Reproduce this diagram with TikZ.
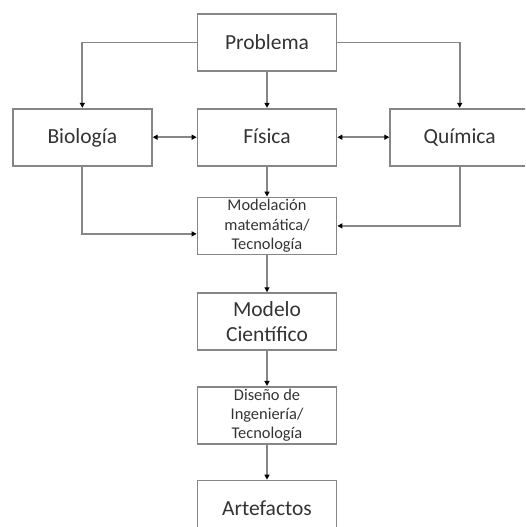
\documentclass[tikz,border=0pt]{standalone}
\usepackage{fontspec}
\setmainfont{Carlito}
\usetikzlibrary{positioning,arrows.meta}

\definecolor{boxline}{HTML}{868686}
\definecolor{boxtext}{HTML}{333333}

\tikzset{
  head/.tip={Triangle[length=5pt,width=5pt,black]},
  block/.style={draw=boxline, line width=1.7pt, minimum width=139pt,
    minimum height=57pt, inner sep=0pt, align=center, text=boxtext,
    font=\fontsize{21.5}{25.7}\selectfont},
  oneline/.style={block, text height=16pt, text depth=3pt},
  smallblock/.style={block, font=\fontsize{16.4}{19.2}\selectfont},
  link/.style={draw=boxline, line width=1.7pt, -head},
  twoway/.style={draw=boxline, line width=1.7pt, head-head},
}

\begin{document}
\begin{tikzpicture}
  \useasboundingbox (0,0) rectangle (525pt,-527pt);
  \clip (0,0) rectangle (525pt,-527pt);

  % Define nodes
  \node[oneline] (problema) at (267pt,-42.5pt) {Problema};
  \node[oneline, below=36pt of problema] (fisica) {Física};
  \node[oneline, left=44pt of fisica] (biologia) {Biología};
  \node[oneline, right=52pt of fisica] (quimica) {Química};
  \node[smallblock, below=30pt of fisica] (modelacion) {Modelación\\matemática/\\Tecnología};
  \node[block, below=37pt of modelacion] (modelo) {Modelo\\Científico};
  \node[smallblock, below=35pt of modelo] (diseno) {Diseño de\\Ingeniería/\\Tecnología};
  \node[oneline, below=35pt of diseno] (artefactos) {Artefactos};

  % Connect the nodes
  \draw[link] (problema) -- (fisica);
  \draw[link] (problema.west) -| (biologia.north);
  \draw[link] (problema.east) -| (quimica.north);
  \draw[twoway] (biologia) -- (fisica);
  \draw[twoway] (fisica) -- (quimica);
  \draw[link] (fisica) -- (modelacion);
  \draw[link] (biologia.south) |- ([yshift=-8pt]modelacion.west);
  \draw[link] (quimica.south) |- (modelacion.east);
  \draw[link] (modelacion) -- (modelo);
  \draw[link] (modelo) -- (diseno);
  \draw[link] (diseno) -- (artefactos);
\end{tikzpicture}
\end{document}
